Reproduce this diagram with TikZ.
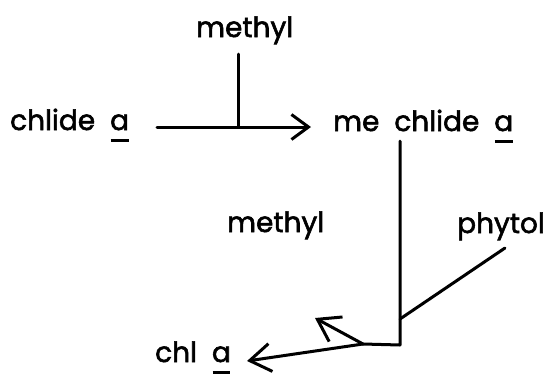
\documentclass[tikz,border=0pt]{standalone}
\usepackage{fontspec}
\usetikzlibrary{arrows.meta}
\newfontfamily\labelfont{Poppins}[LetterSpace=0, WordSpace=2, FakeBold=2]
% underlined single-storey a
\newcommand{\ula}{\leavevmode\setbox0=\hbox{a}\rlap{\hspace{0.02em}\rule[-0.42em]{0.95\wd0}{0.1em}}\box0}
\tikzset{
  lbl/.style={inner sep=0pt, anchor=base west, font=\labelfont\fontsize{28}{31}\selectfont},
  ln/.style={line width=3pt, line cap=round, line join=round},
  arr/.style={ln, -{Straight Barb[length=17pt,width=25pt,line width=3pt]}},
  bigarr/.style={ln, -{Straight Barb[length=21pt,width=28pt,line width=3pt]}},
}
\begin{document}
\begin{tikzpicture}[x=1pt,y=-1pt]
\useasboundingbox (0,0) rectangle (555,373);
% labels
\node[lbl] (methylA) at (196,37) {methyl};
\node[lbl] (chlide) at (10,130) {chlide \ula};
\node[lbl] (mechlide) at (333,131) {me chlide \ula};
\node[lbl] (phytol) at (457,233) {phytol};
\node[lbl] (methylB) at (227,232) {methyl};
\node[lbl] (chla) at (155,362) {chl \ula};
% junction and end points
\coordinate (s1) at (157,127);
\coordinate (j1) at (238,127);
\coordinate (e1) at (311,127);
\coordinate (m1) at (238,54);
\coordinate (v1) at (400,141);
\coordinate (v2) at (400,345);
\coordinate (p1) at (505,248);
\coordinate (p2) at (400,319);
\coordinate (j2) at (363,344);
\coordinate (e2) at (247,361);
\coordinate (e3) at (315,318);
% methylation step
\draw[arr] (s1) -- (e1);
\draw[ln] (m1) -- (j1);
% phytylation and loss of methyl
\draw[ln] (v1) -- (v2) -- (j2);
\draw[ln] (p1) -- (p2);
\draw[bigarr] (j2) -- (e2);
\draw[bigarr] (j2) -- (e3);
\end{tikzpicture}
\end{document}
